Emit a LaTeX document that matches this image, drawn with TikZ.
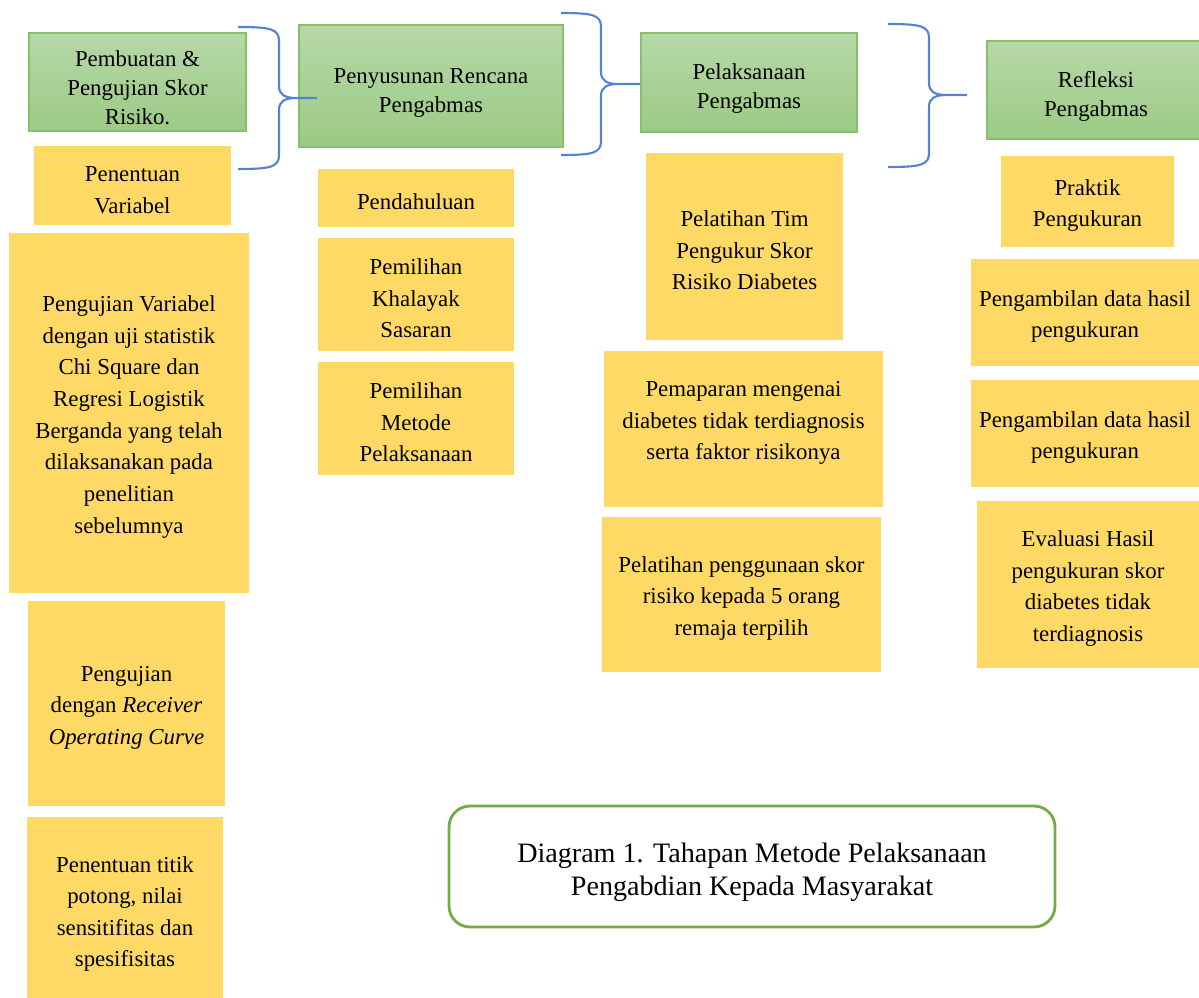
\documentclass[tikz,border=0pt]{standalone}
\usepackage{fontspec}
\setmainfont{Liberation Serif}
\usepackage{xcolor}
\usepackage{tikz}
\definecolor{hdtop}{HTML}{B6D8A8}
\definecolor{hdbot}{HTML}{9CCA84}
\definecolor{hdline}{HTML}{88BF6C}
\definecolor{subfill}{HTML}{FFD966}
\definecolor{brline}{HTML}{5582D2}
\definecolor{capline}{HTML}{70AD47}
% taller first line, pushes the text block down a little
\newcommand{\pushdn}[1]{\rule{0pt}{#1}}

\begin{document}
\begin{tikzpicture}[x=0.02cm,y=-0.02cm,
  sz/.style 2 args={minimum width=#1*0.02cm,minimum height=#2*0.02cm},
  hd/.style={draw=hdline,line width=0.8pt,top color=hdtop,bottom color=hdbot,inner sep=0pt,align=center,
    font=\fontsize{13}{16.5}\selectfont},
  sub/.style={fill=subfill,inner sep=0pt,align=center,font=\fontsize{13}{18}\selectfont},
  brc/.style={draw=brline,line width=1.2pt,line join=round}]
\useasboundingbox (0,0) rectangle (1199,997);
% header boxes
\node[hd,sz={217}{98}] (mk) at (137.5,82) {\pushdn{16pt}Pembuatan \&\\Pengujian Skor\\Risiko.};
\node[hd,sz={264}{122}] (plan) at (431,86) {\pushdn{16pt}Penyusunan Rencana\\Pengabmas};
\node[hd,sz={216}{99}] (exec) at (749,82.5) {\pushdn{16pt}Pelaksanaan\\Pengabmas};
\node[hd,sz={218}{98}] (refl) at (1096,90) {\pushdn{16pt}Refleksi\\Pengabmas};
% column 1
\node[sub,sz={197}{79}] (var) at (132.5,185.5) {\pushdn{13.5pt}Penentuan\\Variabel};
\node[sub,sz={240}{360}] (chi) at (129,413) {\pushdn{13.5pt}Pengujian Variabel\\dengan uji statistik\\Chi Square dan\\Regresi Logistik\\Berganda yang telah\\dilaksanakan pada\\penelitian\\sebelumnya};
\node[sub,sz={197}{205}] (roc) at (126.5,703.5) {\pushdn{13.5pt}Pengujian\\dengan \textit{Receiver}\\\textit{Operating Curve}};
\node[sub,sz={196}{186}] (cut) at (125,910) {\pushdn{13.5pt}Penentuan titik\\potong, nilai\\sensitifitas dan\\spesifisitas};
% column 2
\node[sub,sz={196}{58}] (pend) at (416,198) {\pushdn{13.5pt}Pendahuluan};
\node[sub,sz={196}{113}] (khal) at (416,294.5) {\pushdn{13.5pt}Pemilihan\\Khalayak\\Sasaran};
\node[sub,sz={196}{113}] (met) at (416,418.5) {\pushdn{13.5pt}Pemilihan\\Metode\\Pelaksanaan};
% column 3
\node[sub,sz={197}{187}] (tim) at (744.5,246.5) {\pushdn{13.5pt}Pelatihan Tim\\Pengukur Skor\\Risiko Diabetes};
\node[sub,sz={279}{156}] (papar) at (743.5,429) {Pemaparan mengenai\\diabetes tidak terdiagnosis\\serta faktor risikonya\rule[-9.6pt]{0pt}{0pt}};
\node[sub,sz={279}{155}] (latih) at (741.5,594.5) {\pushdn{13.5pt}Pelatihan penggunaan skor\\risiko kepada 5 orang\\remaja terpilih};
% column 4
\node[sub,sz={173}{91}] (prak) at (1087.5,201.5) {\pushdn{13.5pt}Praktik\\Pengukuran};
\node[sub,sz={228}{107}] (ambA) at (1085,312.5) {\pushdn{13.5pt}Pengambilan data hasil\\pengukuran};
\node[sub,sz={228}{107}] (ambB) at (1085,433.5) {\pushdn{13.5pt}Pengambilan data hasil\\pengukuran};
\node[sub,sz={222}{167}] (eval) at (1088,584.5) {\pushdn{13.5pt}Evaluasi Hasil\\pengukuran skor\\diabetes tidak\\terdiagnosis};
% caption
\node[draw=capline,line width=1.6pt,rounded corners=12pt,sz={606}{121},align=center,
  font=\fontsize{16}{19}\selectfont] (cap) at (752,866.5) {\pushdn{18pt}Diagram 1. Tahapan Metode Pelaksanaan\\Pengabdian Kepada Masyarakat};
% braces
\foreach \tx/\ty/\vx/\px/\py/\by in {238/27/279/317/98/169,561/13/601/640/84/155,888/24/929/967/95/167}
  \draw[brc] (\tx,\ty) .. controls (\vx-8,\ty) and (\vx,\ty+2) .. (\vx,\ty+14) -- (\vx,\py-12)
    .. controls (\vx,\py-3) and (\vx+6,\py) .. (\vx+18,\py) -- (\px,\py)
    (\vx+18,\py) .. controls (\vx+6,\py) and (\vx,\py+3) .. (\vx,\py+12) -- (\vx,\by-14)
    .. controls (\vx,\by-2) and (\vx-8,\by) .. (\tx,\by);
\end{tikzpicture}
\end{document}
